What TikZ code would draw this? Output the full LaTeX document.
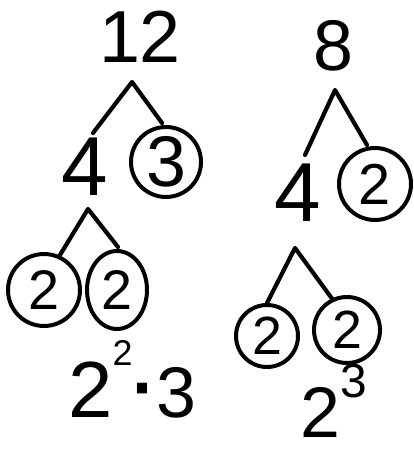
\documentclass[tikz,border=0pt]{standalone}
\usepackage{fontspec}
\setmainfont{Liberation Sans}
\usetikzlibrary{shapes.geometric}
\tikzset{
  num/.style={inner sep=0pt, font=\fontsize{72}{72}\selectfont},
  ring/.style={num, draw, circle, line width=4pt, minimum size=70bp},
  oval/.style={num, draw, ellipse, line width=4pt, inner sep=0pt},
  branch/.style={line width=4.2pt, line cap=round, line join=round}}
\newcommand{\fs}[1]{\fontsize{#1}{#1}\selectfont}

\begin{document}
\begin{tikzpicture}[x=1bp, y=-1bp]
  \useasboundingbox (0,0) rectangle (413,453);
  % left tree: 12
  \node[num, font=\fs{74}] (n12) at (140,37) {12};
  \node[num, font=\fs{84}] (n4l) at (85,167) {4};
  \node[ring] (c3) at (166,162) {3};
  \node[ring, font=\fs{56}, minimum size=72bp] (c2l) at (44,290) {2};
  \node[oval, font=\fs{56}, minimum width=60bp, minimum height=78bp] (c2m) at (117,290) {2};
  \node[num, anchor=base west] (p12) at (68,417)
    {{\fs{80}2}\raisebox{52bp}{\fs{36}2}{\fs{72}\raisebox{5bp}{\bfseries ·}3}};
  \coordinate (a12) at (132,82);
  \coordinate (l12) at (93,133);
  \coordinate (r12) at (162,123);
  \coordinate (a4l) at (88,209);
  \coordinate (l4l) at (60,255);
  \coordinate (r4l) at (118,247);
  \draw[branch] (l12) -- (a12) -- (r12);
  \draw[branch] (l4l) -- (a4l) -- (r4l);
  % right tree: 8
  \node[num] (n8) at (333,46) {8};
  \node[num, font=\fs{84}] (n4r) at (298,193) {4};
  \node[ring, font=\fs{58}, minimum size=72bp] (c2r) at (375,184) {2};
  \node[ring, font=\fs{54}, minimum size=62bp] (c2s) at (267,336) {2};
  \node[ring, font=\fs{54}, minimum size=66bp] (c2t) at (347,330) {2};
  \node[num, anchor=base west] (p8) at (300,437)
    {2\raisebox{40bp}{\fs{48}3}};
  \coordinate (a8) at (335,90);
  \coordinate (l8) at (305,155);
  \coordinate (r8) at (367,145);
  \coordinate (a4r) at (295,248);
  \coordinate (l4r) at (267,303);
  \coordinate (r4r) at (333,300);
  \draw[branch] (l8) -- (a8) -- (r8);
  \draw[branch] (l4r) -- (a4r) -- (r4r);
\end{tikzpicture}
\end{document}
